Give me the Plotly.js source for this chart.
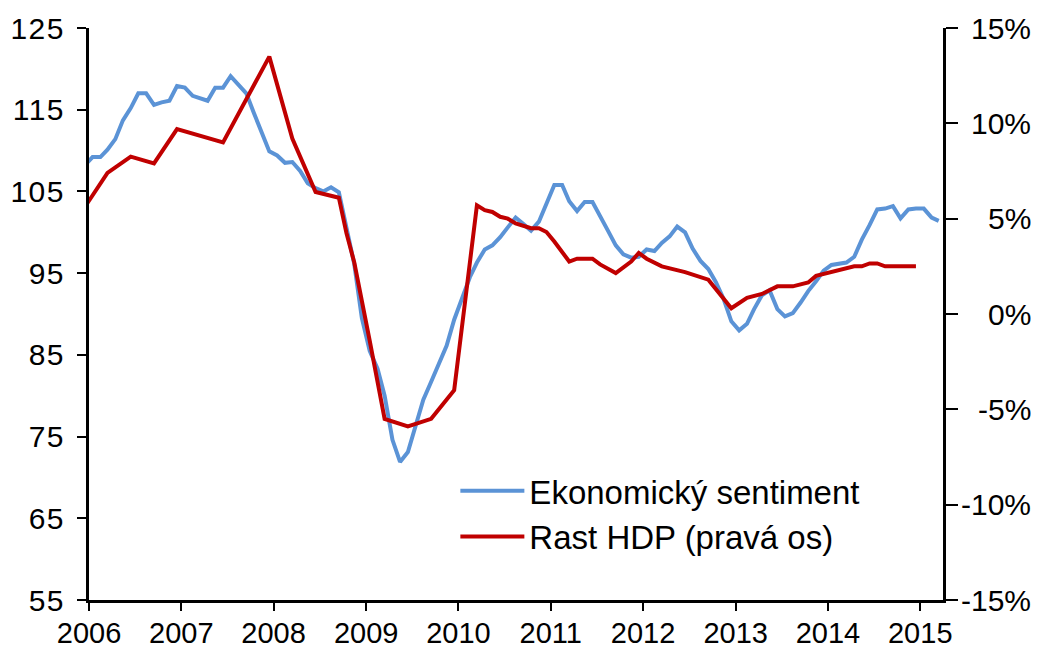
<!DOCTYPE html>
<html>
<head>
<meta charset="utf-8">
<script src="https://cdn.plot.ly/plotly-3.0.1.min.js"></script>
<style>
  html, body { margin: 0; padding: 0; background: #fff; }
  #chart { width: 1048px; height: 650px; }
  /* the original's tick text is set a little wider */
  #chart .ytick text { letter-spacing: 1.5px; }
</style>
</head>
<body>
<div id="chart"></div>
<script>
// Ekonomický sentiment, monthly (Dec 2005 .. Mar 2015)
const sentimentStart = [2005, 12];
const sentiment2005 = [108.2];
const sentiment2006 = [109.2, 109.2, 110.1, 111.4, 113.7, 115.2, 117.0, 117.0, 115.6, 115.9, 116.1, 117.9];
const sentiment2007 = [117.7, 116.7, 116.4, 116.1, 117.7, 117.7, 119.1, 118.1, 117.0, 114.6, 112.1, 109.9];
const sentiment2008 = [109.4, 108.5, 108.6, 107.5, 106.0, 105.4, 105.0, 105.5, 104.9, 100.8, 96.1, 89.5];
const sentiment2009 = [85.5, 83.3, 80.0, 74.6, 71.9, 73.1, 76.2, 79.5, 81.7, 83.8, 86.1, 89.3];
const sentiment2010 = [92.0, 94.5, 96.3, 97.9, 98.4, 99.4, 100.6, 101.8, 101.0, 100.2, 101.3, 103.5];
const sentiment2011 = [105.8, 105.8, 103.8, 102.6, 103.7, 103.7, 102.1, 100.2, 98.4, 97.3, 96.9, 97.0];
const sentiment2012 = [97.9, 97.7, 98.7, 99.5, 100.7, 100.0, 98.0, 96.5, 95.5, 93.9, 91.8, 89.1];
const sentiment2013 = [88.0, 88.8, 90.6, 92.3, 92.9, 90.6, 89.7, 90.1, 91.4, 92.8, 94.0, 95.3];
const sentiment2014 = [96.0, 96.2, 96.3, 97.0, 99.1, 100.9, 102.8, 102.9, 103.2, 101.7, 102.8, 102.9];
const sentiment2015 = [102.9, 101.8, 101.4];

// Rast HDP (pravá os), % y/y
const gdpDates = [
    '2005-12', '2006-03', '2006-06', '2006-09', '2006-12', '2007-06', '2007-12',
    '2008-03', '2008-06', '2008-09', '2008-10', '2008-11', '2009-01', '2009-02', '2009-03',
    '2009-06', '2009-09', '2009-12', '2010-03', '2010-04', '2010-05', '2010-06', '2010-07',
    '2010-08', '2010-10', '2010-11', '2010-12', '2011-01', '2011-03', '2011-04', '2011-06',
    '2011-07', '2011-09', '2011-11', '2011-12', '2012-01', '2012-03', '2012-06', '2012-09',
    '2012-12', '2013-02', '2013-04', '2013-06', '2013-08', '2013-10', '2013-11', '2014-01',
    '2014-04', '2014-05', '2014-06', '2014-07', '2014-08', '2014-12'
];
const gdpValues = [
    5.6, 7.4, 8.25, 7.9, 9.7, 9.0, 13.5,
    9.2, 6.4, 6.1, 4.25, 2.7, -1.4, -3.5, -5.5,
    -5.9, -5.5, -4.0, 5.7, 5.45, 5.35, 5.1, 5.0,
    4.75, 4.5, 4.5, 4.3, 3.8, 2.75, 2.9, 2.9,
    2.6, 2.15, 2.75, 3.2, 2.9, 2.5, 2.2, 1.8,
    0.3, 0.85, 1.05, 1.45, 1.45, 1.65, 2.0, 2.2,
    2.5, 2.5, 2.65, 2.65, 2.5, 2.5
];

const leftTicks = [55, 65, 75, 85, 95, 105, 115, 125];
const rightTicks = [-15, -10, -5, 0, 5, 10, 15];
const rightTickText = ['-15%', '-10%', '-5%', '0%', '5%', '10%', '15%'];
const seriesNames = ['Ekonomický sentiment', 'Rast HDP (pravá os)'];

const sentimentValues = [].concat(sentiment2005, sentiment2006, sentiment2007, sentiment2008,
    sentiment2009, sentiment2010, sentiment2011, sentiment2012, sentiment2013,
    sentiment2014, sentiment2015);

// month labels, plotted mid-month like the Excel date axis
const monthDate = (y, m) => `${y}-${String(m).padStart(2, '0')}-15`;
const sentimentDates = sentimentValues.map((v, i) => {
    const n = sentimentStart[1] - 1 + i;
    return monthDate(sentimentStart[0] + Math.floor(n / 12), (n % 12) + 1);
});

const font = { family: 'Liberation Sans, Arial, sans-serif', color: '#000' };
const tickSize = 30;

const traces = [
    {
        x: sentimentDates,
        y: sentimentValues,
        name: seriesNames[0],
        type: 'scatter',
        mode: 'lines',
        line: { color: '#5B93D6', width: 4 },
        yaxis: 'y',
        hoverinfo: 'skip'
    },
    {
        x: gdpDates.map(d => d + '-15'),
        y: gdpValues,
        name: seriesNames[1],
        type: 'scatter',
        mode: 'lines',
        line: { color: '#C00000', width: 4 },
        yaxis: 'y2',
        hoverinfo: 'skip'
    }
];

const axisCommon = {
    showgrid: false,
    zeroline: false,
    showline: true,
    linecolor: '#000',
    linewidth: 3,
    ticks: 'outside',
    tickcolor: '#000',
    tickwidth: 2,
    tickfont: Object.assign({ size: tickSize }, font),
    fixedrange: true
};

// right axis labels are right-aligned in the original, so they go in as annotations
const rightLabels = rightTicks.map((v, i) => ({
    xref: 'paper',
    yref: 'y2',
    x: 1.1055,
    y: v,
    xanchor: 'right',
    yanchor: 'middle',
    text: rightTickText[i],
    showarrow: false,
    font: Object.assign({ size: tickSize }, font)
}));

const layout = {
    width: 1048,
    height: 650,
    margin: { l: 89, r: 105, t: 28, b: 50 },
    paper_bgcolor: '#fff',
    plot_bgcolor: '#fff',
    font: font,
    showlegend: true,
    legend: {
        x: 0.429,
        y: 0.24,
        xanchor: 'left',
        yanchor: 'top',
        bgcolor: 'rgba(0,0,0,0)',
        font: Object.assign({ size: 33 }, font),
        itemwidth: 64,
        tracegroupgap: 0
    },
    annotations: rightLabels,
    xaxis: Object.assign({}, axisCommon, {
        type: 'date',
        range: ['2006-01-01', '2015-04-01'],
        tick0: '2006-01-01',
        dtick: 'M12',
        tickformat: '%Y',
        ticklen: 8,
        tickfont: Object.assign({ size: 29 }, font),
        ticklabelstandoff: -3
    }),
    yaxis: Object.assign({}, axisCommon, {
        range: [55, 125],
        tickvals: leftTicks,
        ticklen: 9,
        ticklabelstandoff: 6
    }),
    yaxis2: Object.assign({}, axisCommon, {
        overlaying: 'y',
        side: 'right',
        range: [-15, 15],
        tickvals: rightTicks,
        showticklabels: false,
        ticklen: 12
    }),
    // inner halves of the crossing tick marks
    yaxis3: Object.assign({}, axisCommon, {
        overlaying: 'y',
        side: 'left',
        range: [55, 125],
        tickvals: leftTicks,
        ticks: 'inside',
        ticklen: 9,
        showticklabels: false
    }),
    yaxis4: Object.assign({}, axisCommon, {
        overlaying: 'y',
        side: 'right',
        range: [-15, 15],
        tickvals: rightTicks,
        ticks: 'inside',
        ticklen: 6,
        showticklabels: false
    })
};

Plotly.newPlot('chart', traces, layout, {
    displayModeBar: false,
    staticPlot: true
});
</script>
</body>
</html>
